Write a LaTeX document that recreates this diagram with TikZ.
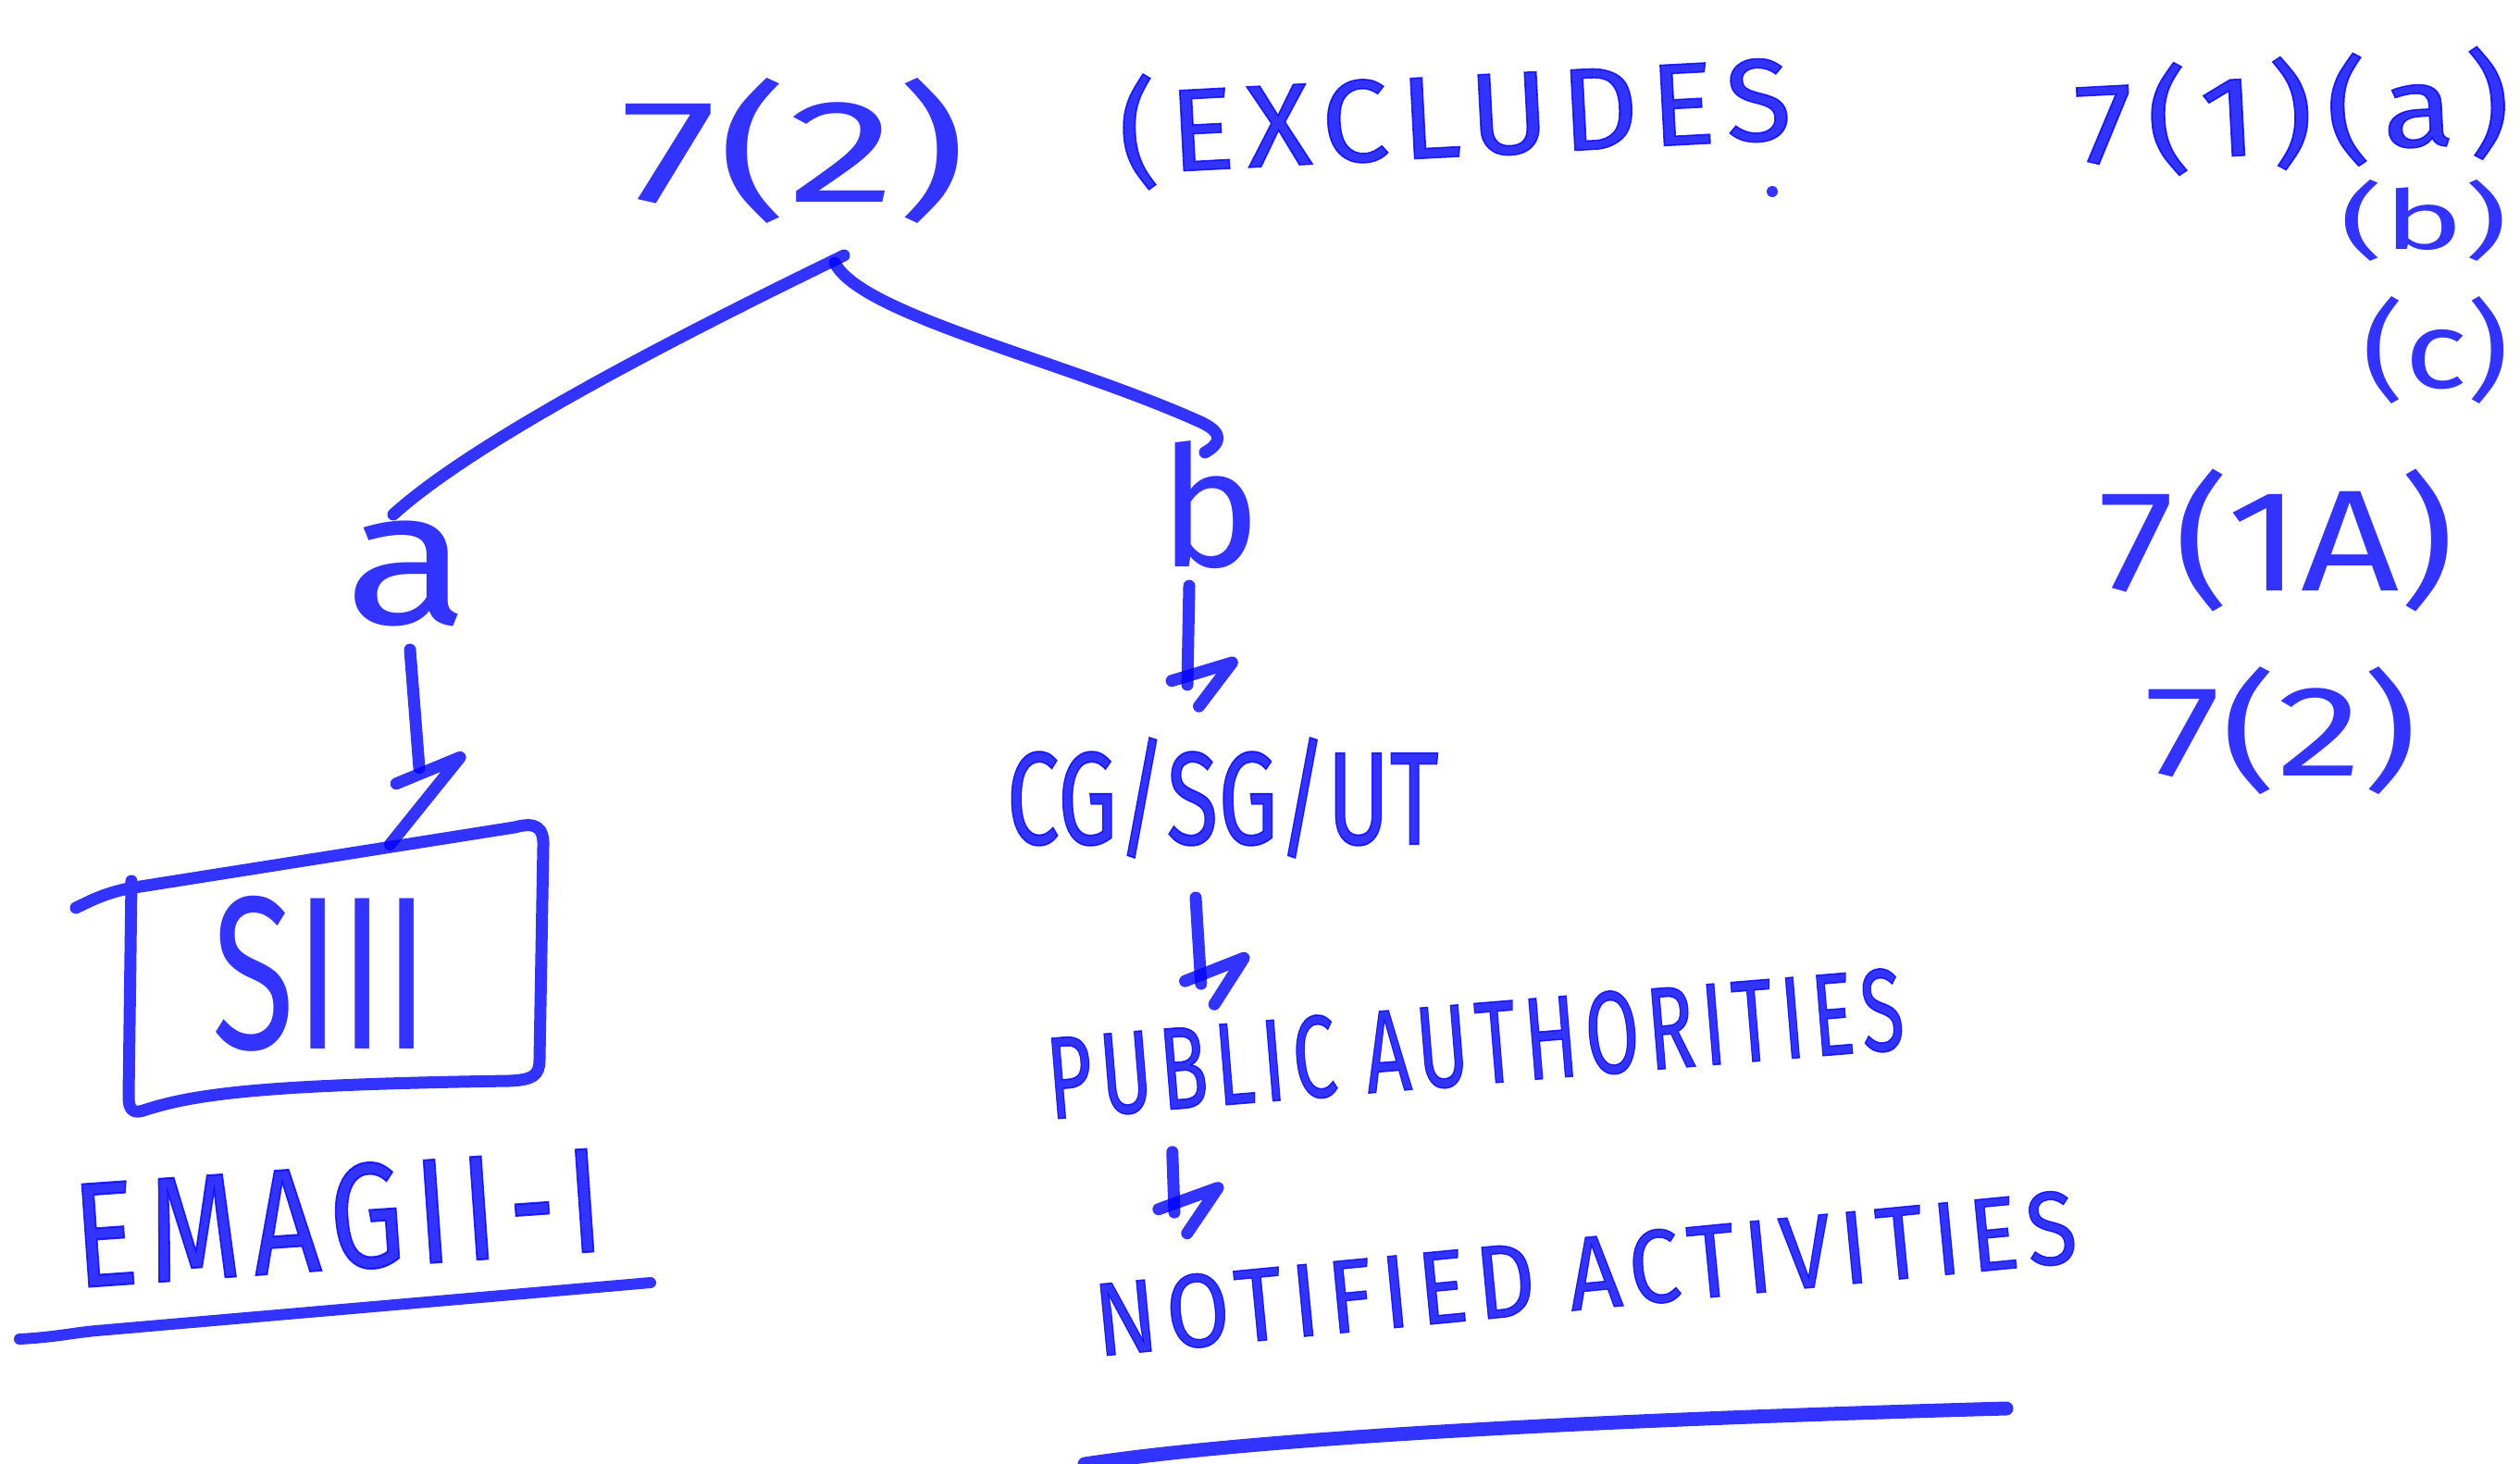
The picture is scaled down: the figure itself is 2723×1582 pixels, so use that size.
\documentclass[tikz,border=0pt]{standalone}
\usepackage{fontspec}
\setmainfont{Fira Sans}
\newfontfamily\inkfont{Fira Sans}[FakeBold=1.2]
\newfontfamily\inkfontsp{Fira Sans}[FakeBold=1.2, LetterSpace=10]
\usepackage{graphicx}
\usetikzlibrary{decorations.markings}

\definecolor{ink}{RGB}{0,0,255}

\tikzset{
  inkline/.style={draw=ink, draw opacity=0.8, line width=13pt, line cap=round, line join=round},
  hand/.style={text=ink, text opacity=0.8, inner sep=0pt, outer sep=0pt},
  handm/.style={hand, font=\inkfont},
  hands/.style={hand, font=\inkfontsp},
  % hand-drawn zigzag arrow heads, placed at the end of a connector
  zhead/.style={postaction={decorate, decoration={markings,
      mark=at position 1 with {\draw[inkline] (-4pt,-17pt) -- (-25pt,48pt) -- (23pt,13pt);}}}},
  zheadbig/.style={postaction={decorate, decoration={markings,
      mark=at position 1 with {\draw[inkline] (15pt,-26pt) -- (-8pt,45pt) -- (80pt,-38pt);}}}},
}

\begin{document}
\begin{tikzpicture}[x=1pt, y=-1pt]
\fill[white] (0,0) rectangle (2723,1582);
\useasboundingbox (0,0) rectangle (2723,1582);

% heading
\node[hand] (t72) at (858,163) {\resizebox*{374pt}{157pt}{7(2)}};
\node[hands] (excl) at (1572,125) {\rotatebox{3}{\resizebox*{727pt}{125pt}{(EXCLUDES}}};
\fill[ink, opacity=0.8] (1915,207) circle (6pt);

% references on the right
\node[hands] (r1) at (2477,122) {\rotatebox{3}{\resizebox*{470pt}{122pt}{7(1)(a)}}};
\node[hand] (r2) at (2619,238) {\resizebox*{181pt}{88pt}{(b)}};
\node[hand] (r3) at (2632,378) {\resizebox*{159pt}{116pt}{(c)}};
\node[hand] (r4) at (2460,584) {\resizebox*{385pt}{154pt}{7(1A)}};
\node[hand] (r5) at (2465,790) {\resizebox*{294pt}{138pt}{7(2)}};

% tree
\coordinate (fork) at (912,276);
\node[hand] (a) at (440,620) {\resizebox*{135pt}{114pt}{a}};
\node[hand] (b) at (1308,546) {\resizebox*{110pt}{138pt}{b}};

\draw[inkline] (fork) .. controls (760,350) and (520,470) .. ([xshift=-15pt,yshift=7pt]a.north);
\draw[inkline] ([xshift=-10pt,yshift=-8pt]fork) .. controls (930,340) and (1150,390) .. (1295,455)
   .. controls (1325,468) and (1318,480) .. ([xshift=-6pt,yshift=-12pt]b.north);

% left branch: boxed item
\node[minimum width=449pt, minimum height=316pt, inner sep=0pt] (box) at (364,1042) {};
\draw[inkline] (142,952) -- (139,1185) .. controls (139,1197) and (142,1204) .. (155,1200)
   .. controls (215,1180) and (300,1172) .. (550,1168)
   .. controls (576,1167) and (583,1162) .. (583,1145) -- (587,915)
   .. controls (588,893) and (578,888) .. (556,894) -- (139,960)
   .. controls (110,966) and (95,975) .. (82,981);
\node[hand] (s3) at (347,1052) {\resizebox*{234pt}{168pt}{SIII}};
\node[hands] (sch) at (365,1316) {\rotatebox{4}{\resizebox*{572pt}{115pt}{EMAGII-I}}};
\draw[inkline, line width=12pt] (21,1447) .. controls (60,1445) and (80,1440) .. (104,1438) -- (703,1386);

\draw[inkline, zheadbig] ([xshift=3pt,yshift=-25pt]a.south) -- ([xshift=89pt,yshift=54pt]box.north);

% right branch: chain
\node[handm] (cg) at (1321,862) {\resizebox*{467pt}{130pt}{CG/SG/UT}};
\node[hands] (pub) at (1594,1128) {\rotatebox{4.7}{\resizebox*{928pt}{90pt}{PUBLIC AUTHORITIES}}};
\node[hands] (noti) at (1713,1376) {\rotatebox{5.5}{\resizebox*{1065pt}{80pt}{NOTIFIED ACTIVITIES}}};

\draw[inkline, zhead] ([xshift=-23pt,yshift=-18pt]b.south) -- ([xshift=-38pt,yshift=57pt]cg.north);
\draw[inkline, zhead] ([xshift=-29pt,yshift=-43pt]cg.south) -- ([xshift=170pt,yshift=-18pt]pub.north west);
\draw[inkline, zhead] ([xshift=139pt,yshift=-34pt]pub.south west) -- ([xshift=90pt,yshift=-25pt]noti.north west);

\draw[inkline, line width=15pt] (1172,1582) .. controls (1350,1555) and (1700,1535) .. (2168,1522);
\end{tikzpicture}
\end{document}
